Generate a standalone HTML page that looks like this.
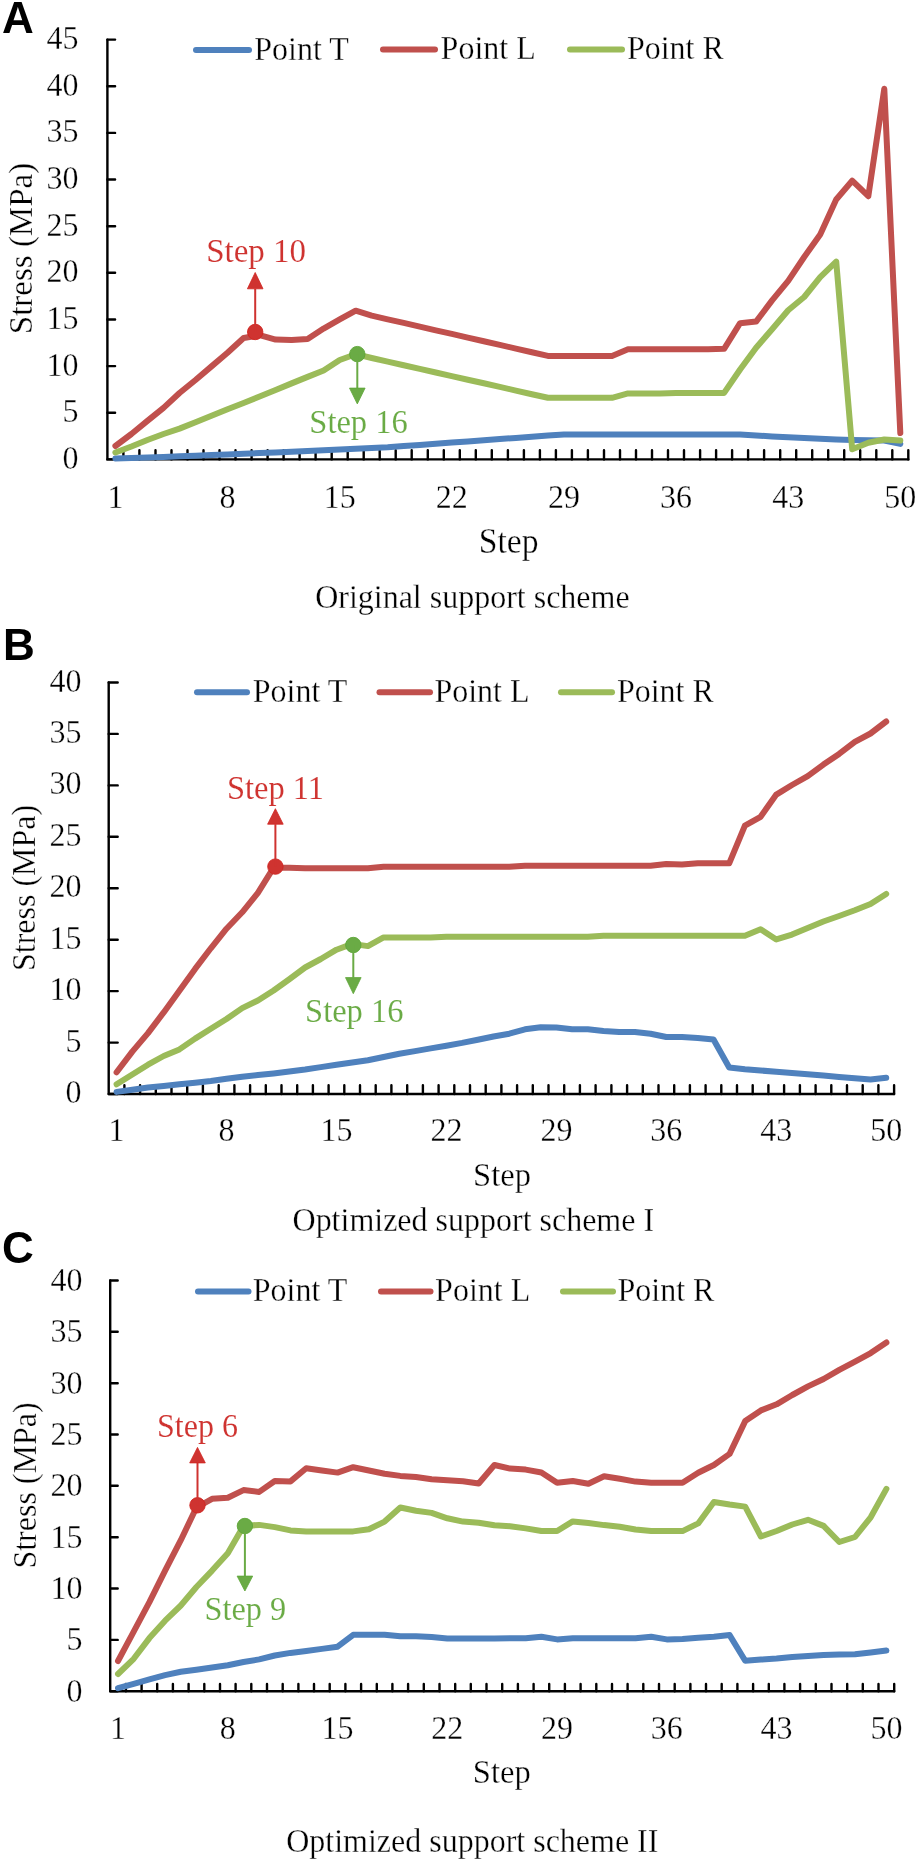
<!DOCTYPE html>
<html><head><meta charset="utf-8"><style>
html,body{margin:0;padding:0;background:#fff;width:919px;height:1862px;overflow:hidden}
svg{display:block;will-change:transform}
text{font-family:"Liberation Serif",serif;stroke:#fff;stroke-width:0.3px}
.lt{font-family:"Liberation Sans",sans-serif;font-weight:bold;stroke:none}
.an{stroke-width:0.1px}
</style></head><body>
<svg width="919" height="1862" viewBox="0 0 919 1862">
<rect width="919" height="1862" fill="#fff"/>
<path d="M107.4 39.6 V459.4 H908.3" fill="none" stroke="#000" stroke-width="2.4" stroke-linecap="round" stroke-linejoin="round"/>
<path d="M107.4 459.4 H115.1 M107.4 412.8 H115.1 M107.4 366.1 H115.1 M107.4 319.5 H115.1 M107.4 272.8 H115.1 M107.4 226.2 H115.1 M107.4 179.5 H115.1 M107.4 132.9 H115.1 M107.4 86.2 H115.1 M107.4 39.6 H115.1 M123.4 459.4 V450.3 M139.4 459.4 V450.3 M155.5 459.4 V450.3 M171.5 459.4 V450.3 M187.5 459.4 V450.3 M203.5 459.4 V450.3 M219.5 459.4 V450.3 M235.5 459.4 V450.3 M251.6 459.4 V450.3 M267.6 459.4 V450.3 M283.6 459.4 V450.3 M299.6 459.4 V450.3 M315.6 459.4 V450.3 M331.7 459.4 V450.3 M347.7 459.4 V450.3 M363.7 459.4 V450.3 M379.7 459.4 V450.3 M395.7 459.4 V450.3 M411.7 459.4 V450.3 M427.8 459.4 V450.3 M443.8 459.4 V450.3 M459.8 459.4 V450.3 M475.8 459.4 V450.3 M491.8 459.4 V450.3 M507.9 459.4 V450.3 M523.9 459.4 V450.3 M539.9 459.4 V450.3 M555.9 459.4 V450.3 M571.9 459.4 V450.3 M587.9 459.4 V450.3 M604 459.4 V450.3 M620 459.4 V450.3 M636 459.4 V450.3 M652 459.4 V450.3 M668 459.4 V450.3 M684 459.4 V450.3 M700.1 459.4 V450.3 M716.1 459.4 V450.3 M732.1 459.4 V450.3 M748.1 459.4 V450.3 M764.1 459.4 V450.3 M780.2 459.4 V450.3 M796.2 459.4 V450.3 M812.2 459.4 V450.3 M828.2 459.4 V450.3 M844.2 459.4 V450.3 M860.2 459.4 V450.3 M876.3 459.4 V450.3 M892.3 459.4 V450.3 M908.3 459.4 V450.3" fill="none" stroke="#000" stroke-width="2.4" stroke-linecap="round"/>
<text transform="translate(78.5,468.8) scale(1,1.05)" text-anchor="end" fill="#000" font-size="32">0</text>
<text transform="translate(78.5,422.2) scale(1,1.05)" text-anchor="end" fill="#000" font-size="32">5</text>
<text transform="translate(78.5,375.5) scale(1,1.05)" text-anchor="end" fill="#000" font-size="32">10</text>
<text transform="translate(78.5,328.9) scale(1,1.05)" text-anchor="end" fill="#000" font-size="32">15</text>
<text transform="translate(78.5,282.2) scale(1,1.05)" text-anchor="end" fill="#000" font-size="32">20</text>
<text transform="translate(78.5,235.6) scale(1,1.05)" text-anchor="end" fill="#000" font-size="32">25</text>
<text transform="translate(78.5,188.9) scale(1,1.05)" text-anchor="end" fill="#000" font-size="32">30</text>
<text transform="translate(78.5,142.3) scale(1,1.05)" text-anchor="end" fill="#000" font-size="32">35</text>
<text transform="translate(78.5,95.6) scale(1,1.05)" text-anchor="end" fill="#000" font-size="32">40</text>
<text transform="translate(78.5,49) scale(1,1.05)" text-anchor="end" fill="#000" font-size="32">45</text>
<text transform="translate(115.4,508) scale(1,1.05)" text-anchor="middle" fill="#000" font-size="32">1</text>
<text transform="translate(227.5,508) scale(1,1.05)" text-anchor="middle" fill="#000" font-size="32">8</text>
<text transform="translate(339.7,508) scale(1,1.05)" text-anchor="middle" fill="#000" font-size="32">15</text>
<text transform="translate(451.8,508) scale(1,1.05)" text-anchor="middle" fill="#000" font-size="32">22</text>
<text transform="translate(563.9,508) scale(1,1.05)" text-anchor="middle" fill="#000" font-size="32">29</text>
<text transform="translate(676,508) scale(1,1.05)" text-anchor="middle" fill="#000" font-size="32">36</text>
<text transform="translate(788.2,508) scale(1,1.05)" text-anchor="middle" fill="#000" font-size="32">43</text>
<text transform="translate(900.3,508) scale(1,1.05)" text-anchor="middle" fill="#000" font-size="32">50</text>
<polyline points="115.4,458.5 131.4,458 147.4,457.4 163.5,456.9 179.5,456.3 195.5,455.8 211.5,455.1 227.5,454.4 243.6,453.7 259.6,453.1 275.6,452.4 291.6,451.7 307.6,451 323.6,450.3 339.7,449.5 355.7,448.8 371.7,448 387.7,447.3 403.7,446.1 419.8,445 435.8,443.8 451.8,442.6 467.8,441.5 483.8,440.3 499.8,439.1 515.9,437.9 531.9,436.8 547.9,435.6 563.9,434.6 579.9,434.6 595.9,434.6 612,434.6 628,434.6 644,434.6 660,434.6 676,434.6 692.1,434.6 708.1,434.6 724.1,434.6 740.1,434.6 756.1,435.5 772.1,436.4 788.2,437.3 804.2,438 820.2,438.8 836.2,439.5 852.2,439.9 868.3,440.2 884.3,440.6 900.3,443.9" fill="none" stroke="#4F81BD" stroke-width="6.0" stroke-linejoin="round" stroke-linecap="round"/>
<polyline points="115.4,446 131.4,434 147.4,420.9 163.5,407.9 179.5,393 195.5,380 211.5,366.4 227.5,352.8 243.6,338 259.6,335.2 275.6,339.6 291.6,340 307.6,339 323.6,328.6 339.7,319.4 355.7,310.7 371.7,315.6 387.7,319.3 403.7,322.9 419.8,326.6 435.8,330.3 451.8,333.9 467.8,337.6 483.8,341.2 499.8,344.9 515.9,348.6 531.9,352.2 547.9,355.9 563.9,355.9 579.9,355.9 595.9,355.9 612,355.9 628,349.3 644,349.3 660,349.3 676,349.3 692.1,349.3 708.1,349.3 724.1,348.8 740.1,323.2 756.1,321.6 772.1,300.4 788.2,280.8 804.2,257 820.2,234.4 836.2,199.5 852.2,180.7 868.3,196.2 884.3,88.8 900.3,433" fill="none" stroke="#C0504D" stroke-width="6.0" stroke-linejoin="round" stroke-linecap="round"/>
<polyline points="115.4,452.5 131.4,446.5 147.4,440 163.5,434 179.5,428.6 195.5,422.2 211.5,415.8 227.5,409.2 243.6,403 259.6,396.5 275.6,389.9 291.6,383.4 307.6,376.9 323.6,370.5 339.7,360 355.7,354.2 371.7,358 387.7,361.6 403.7,365.2 419.8,368.9 435.8,372.5 451.8,376.1 467.8,379.7 483.8,383.3 499.8,386.9 515.9,390.6 531.9,394.2 547.9,397.8 563.9,397.8 579.9,397.8 595.9,397.8 612,397.8 628,393.4 644,393.4 660,393.4 676,392.9 692.1,392.9 708.1,392.9 724.1,392.9 740.1,369.5 756.1,347.7 772.1,329.2 788.2,310.2 804.2,297 820.2,277.2 836.2,261.6 852.2,449.3 868.3,442.8 884.3,439.5 900.3,440.6" fill="none" stroke="#9BBB59" stroke-width="6.0" stroke-linejoin="round" stroke-linecap="round"/>
<path d="M196 50 H249" stroke="#4F81BD" stroke-width="6.0" stroke-linecap="round"/>
<text transform="translate(254.3,59.8) scale(1,1.05)" text-anchor="start" fill="#000" font-size="32">Point T</text>
<path d="M383 49.6 H435" stroke="#C0504D" stroke-width="6.0" stroke-linecap="round"/>
<text transform="translate(440.6,59.4) scale(1,1.05)" text-anchor="start" fill="#000" font-size="32">Point L</text>
<path d="M570 49.6 H622" stroke="#9BBB59" stroke-width="6.0" stroke-linecap="round"/>
<text transform="translate(626.9,59.4) scale(1,1.05)" text-anchor="start" fill="#000" font-size="32">Point R</text>
<text transform="translate(32.2,248.5) rotate(-90) scale(1,1.05)" text-anchor="middle" font-size="33">Stress (MPa)</text>
<text transform="translate(508.7,553) scale(1,1.05)" text-anchor="middle" fill="#000" font-size="33.6">Step</text>
<text transform="translate(472.4,608.3) scale(1,1.05)" text-anchor="middle" fill="#000" font-size="32">Original support scheme</text>
<text x="2" y="32.7" class="lt" font-size="44">A</text>
<circle cx="255.2" cy="332" r="7.7" fill="#CF3330" stroke="#D0241F" stroke-width="0.9"/>
<path d="M255.2 332 V288.8" stroke="#CF3330" stroke-width="2"/>
<path d="M247.4 288.8 L263 288.8 L255.2 272.5 Z" fill="#CF3330" stroke="#D0241F" stroke-width="0.8" stroke-linejoin="round"/>
<text transform="translate(256.1,262.4) scale(1,1.05)" text-anchor="middle" fill="#CF3330" font-size="33" class="an">Step 10</text>
<circle cx="357.3" cy="354.1" r="7.7" fill="#6AAB45" stroke="#5EA638" stroke-width="0.9"/>
<path d="M357.3 354.1 V388.1" stroke="#6AAB45" stroke-width="2"/>
<path d="M349.5 388.1 L365.1 388.1 L357.3 403.9 Z" fill="#6AAB45" stroke="#5EA638" stroke-width="0.8" stroke-linejoin="round"/>
<text transform="translate(358.5,432.5) scale(1,1.05)" text-anchor="middle" fill="#6AAB45" font-size="32.5" class="an">Step 16</text>
<path d="M108.7 682.5 V1094 H894.1" fill="none" stroke="#000" stroke-width="2.4" stroke-linecap="round" stroke-linejoin="round"/>
<path d="M108.7 1094 H117.7 M108.7 1042.6 H117.7 M108.7 991.1 H117.7 M108.7 939.7 H117.7 M108.7 888.2 H117.7 M108.7 836.8 H117.7 M108.7 785.4 H117.7 M108.7 733.9 H117.7 M108.7 682.5 H117.7 M124.4 1094 V1085.3 M140.1 1094 V1085.3 M155.8 1094 V1085.3 M171.5 1094 V1085.3 M187.2 1094 V1085.3 M202.9 1094 V1085.3 M218.7 1094 V1085.3 M234.4 1094 V1085.3 M250.1 1094 V1085.3 M265.8 1094 V1085.3 M281.5 1094 V1085.3 M297.2 1094 V1085.3 M312.9 1094 V1085.3 M328.6 1094 V1085.3 M344.3 1094 V1085.3 M360 1094 V1085.3 M375.7 1094 V1085.3 M391.4 1094 V1085.3 M407.2 1094 V1085.3 M422.9 1094 V1085.3 M438.6 1094 V1085.3 M454.3 1094 V1085.3 M470 1094 V1085.3 M485.7 1094 V1085.3 M501.4 1094 V1085.3 M517.1 1094 V1085.3 M532.8 1094 V1085.3 M548.5 1094 V1085.3 M564.2 1094 V1085.3 M579.9 1094 V1085.3 M595.6 1094 V1085.3 M611.4 1094 V1085.3 M627.1 1094 V1085.3 M642.8 1094 V1085.3 M658.5 1094 V1085.3 M674.2 1094 V1085.3 M689.9 1094 V1085.3 M705.6 1094 V1085.3 M721.3 1094 V1085.3 M737 1094 V1085.3 M752.7 1094 V1085.3 M768.4 1094 V1085.3 M784.1 1094 V1085.3 M799.9 1094 V1085.3 M815.6 1094 V1085.3 M831.3 1094 V1085.3 M847 1094 V1085.3 M862.7 1094 V1085.3 M878.4 1094 V1085.3 M894.1 1094 V1085.3" fill="none" stroke="#000" stroke-width="2.4" stroke-linecap="round"/>
<text transform="translate(81.5,1103) scale(1,1.05)" text-anchor="end" fill="#000" font-size="32">0</text>
<text transform="translate(81.5,1051.6) scale(1,1.05)" text-anchor="end" fill="#000" font-size="32">5</text>
<text transform="translate(81.5,1000.1) scale(1,1.05)" text-anchor="end" fill="#000" font-size="32">10</text>
<text transform="translate(81.5,948.7) scale(1,1.05)" text-anchor="end" fill="#000" font-size="32">15</text>
<text transform="translate(81.5,897.2) scale(1,1.05)" text-anchor="end" fill="#000" font-size="32">20</text>
<text transform="translate(81.5,845.8) scale(1,1.05)" text-anchor="end" fill="#000" font-size="32">25</text>
<text transform="translate(81.5,794.4) scale(1,1.05)" text-anchor="end" fill="#000" font-size="32">30</text>
<text transform="translate(81.5,742.9) scale(1,1.05)" text-anchor="end" fill="#000" font-size="32">35</text>
<text transform="translate(81.5,691.5) scale(1,1.05)" text-anchor="end" fill="#000" font-size="32">40</text>
<text transform="translate(116.6,1141) scale(1,1.05)" text-anchor="middle" fill="#000" font-size="32">1</text>
<text transform="translate(226.5,1141) scale(1,1.05)" text-anchor="middle" fill="#000" font-size="32">8</text>
<text transform="translate(336.5,1141) scale(1,1.05)" text-anchor="middle" fill="#000" font-size="32">15</text>
<text transform="translate(446.4,1141) scale(1,1.05)" text-anchor="middle" fill="#000" font-size="32">22</text>
<text transform="translate(556.4,1141) scale(1,1.05)" text-anchor="middle" fill="#000" font-size="32">29</text>
<text transform="translate(666.3,1141) scale(1,1.05)" text-anchor="middle" fill="#000" font-size="32">36</text>
<text transform="translate(776.3,1141) scale(1,1.05)" text-anchor="middle" fill="#000" font-size="32">43</text>
<text transform="translate(886.2,1141) scale(1,1.05)" text-anchor="middle" fill="#000" font-size="32">50</text>
<polyline points="116.6,1091.9 132.3,1089.7 148,1087.5 163.7,1085.9 179.4,1084.3 195.1,1082.7 210.8,1081 226.5,1078.8 242.2,1076.7 257.9,1075.1 273.6,1073.4 289.3,1071.5 305.1,1069.5 320.8,1067.1 336.5,1064.7 352.2,1062.5 367.9,1060.3 383.6,1057 399.3,1053.8 415,1051.1 430.7,1048.4 446.4,1045.7 462.1,1042.9 477.8,1039.7 493.5,1036.5 509.3,1033.7 525,1029.3 540.7,1027.2 556.4,1027.6 572.1,1029.3 587.8,1029.3 603.5,1030.9 619.2,1032 634.9,1032 650.6,1033.7 666.3,1037 682,1037.1 697.8,1038 713.5,1039.5 729.2,1067.5 744.9,1069.2 760.6,1070.5 776.3,1071.8 792,1073.1 807.7,1074.3 823.4,1075.6 839.1,1076.9 854.8,1078.2 870.5,1079.5 886.2,1077.8" fill="none" stroke="#4F81BD" stroke-width="6.0" stroke-linejoin="round" stroke-linecap="round"/>
<polyline points="116.6,1072.3 132.3,1051.6 148,1033.1 163.7,1012.4 179.4,990.7 195.1,968.9 210.8,948.3 226.5,928.7 242.2,912.3 257.9,892.8 273.6,867.7 289.3,867.7 305.1,868.2 320.8,868.2 336.5,868.2 352.2,868.2 367.9,868.2 383.6,866.8 399.3,866.8 415,866.8 430.7,866.8 446.4,866.8 462.1,866.8 477.8,866.8 493.5,866.8 509.3,866.8 525,865.7 540.7,865.7 556.4,865.7 572.1,865.7 587.8,865.7 603.5,865.7 619.2,865.7 634.9,865.7 650.6,865.7 666.3,864 682,864.5 697.8,863.3 713.5,863.3 729.2,863.3 744.9,825.7 760.6,816.8 776.3,794.6 792,785 807.7,776.1 823.4,764.6 839.1,753.9 854.8,741.9 870.5,733.5 886.2,721.5" fill="none" stroke="#C0504D" stroke-width="6.0" stroke-linejoin="round" stroke-linecap="round"/>
<polyline points="116.6,1084.3 132.3,1074.5 148,1064.7 163.7,1056 179.4,1049.4 195.1,1038.6 210.8,1028.8 226.5,1019 242.2,1008.1 257.9,1000.5 273.6,990.5 289.3,979.2 305.1,967.5 320.8,959 336.5,949.7 352.2,943.9 367.9,946.1 383.6,937.4 399.3,937.4 415,937.4 430.7,937.4 446.4,936.8 462.1,936.8 477.8,936.8 493.5,936.8 509.3,936.8 525,936.8 540.7,936.8 556.4,936.8 572.1,936.8 587.8,936.8 603.5,935.8 619.2,935.8 634.9,935.8 650.6,935.8 666.3,935.8 682,935.8 697.8,935.8 713.5,935.8 729.2,935.8 744.9,935.8 760.6,929.3 776.3,939.4 792,934.6 807.7,927.9 823.4,921.5 839.1,916 854.8,910.2 870.5,904 886.2,893.9" fill="none" stroke="#9BBB59" stroke-width="6.0" stroke-linejoin="round" stroke-linecap="round"/>
<path d="M197 692.2 H247" stroke="#4F81BD" stroke-width="6.0" stroke-linecap="round"/>
<text transform="translate(252.8,702) scale(1,1.05)" text-anchor="start" fill="#000" font-size="32">Point T</text>
<path d="M379.5 692.2 H430" stroke="#C0504D" stroke-width="6.0" stroke-linecap="round"/>
<text transform="translate(434.4,702) scale(1,1.05)" text-anchor="start" fill="#000" font-size="32">Point L</text>
<path d="M561 692.2 H612" stroke="#9BBB59" stroke-width="6.0" stroke-linecap="round"/>
<text transform="translate(616.9,702) scale(1,1.05)" text-anchor="start" fill="#000" font-size="32">Point R</text>
<text transform="translate(34.9,887.9) rotate(-90) scale(1,1.05)" text-anchor="middle" font-size="32">Stress (MPa)</text>
<text transform="translate(502,1185.9) scale(1,1.05)" text-anchor="middle" fill="#000" font-size="32.6">Step</text>
<text transform="translate(473.3,1230.8) scale(1,1.05)" text-anchor="middle" fill="#000" font-size="32">Optimized support scheme I</text>
<text x="3" y="660.4" class="lt" font-size="44">B</text>
<circle cx="275.4" cy="866.6" r="7.7" fill="#CF3330" stroke="#D0241F" stroke-width="0.9"/>
<path d="M275.4 866.6 V824.2" stroke="#CF3330" stroke-width="2"/>
<path d="M267.6 824.2 L283.2 824.2 L275.4 808.7 Z" fill="#CF3330" stroke="#D0241F" stroke-width="0.8" stroke-linejoin="round"/>
<text transform="translate(275.5,799.2) scale(1,1.05)" text-anchor="middle" fill="#CF3330" font-size="32.5" class="an">Step 11</text>
<circle cx="353.3" cy="945" r="7.7" fill="#6AAB45" stroke="#5EA638" stroke-width="0.9"/>
<path d="M353.3 945 V977.6" stroke="#6AAB45" stroke-width="2"/>
<path d="M345.5 977.6 L361.1 977.6 L353.3 993.7 Z" fill="#6AAB45" stroke="#5EA638" stroke-width="0.8" stroke-linejoin="round"/>
<text transform="translate(354.3,1022.2) scale(1,1.05)" text-anchor="middle" fill="#6AAB45" font-size="32.5" class="an">Step 16</text>
<path d="M110.2 1280.5 V1691.2 H894.2" fill="none" stroke="#000" stroke-width="2.4" stroke-linecap="round" stroke-linejoin="round"/>
<path d="M110.2 1691.2 H117.7 M110.2 1639.9 H117.7 M110.2 1588.5 H117.7 M110.2 1537.2 H117.7 M110.2 1485.8 H117.7 M110.2 1434.5 H117.7 M110.2 1383.2 H117.7 M110.2 1331.8 H117.7 M110.2 1280.5 H117.7 M125.9 1691.2 V1683.9 M141.6 1691.2 V1683.9 M157.2 1691.2 V1683.9 M172.9 1691.2 V1683.9 M188.6 1691.2 V1683.9 M204.3 1691.2 V1683.9 M220 1691.2 V1683.9 M235.6 1691.2 V1683.9 M251.3 1691.2 V1683.9 M267 1691.2 V1683.9 M282.7 1691.2 V1683.9 M298.4 1691.2 V1683.9 M314 1691.2 V1683.9 M329.7 1691.2 V1683.9 M345.4 1691.2 V1683.9 M361.1 1691.2 V1683.9 M376.8 1691.2 V1683.9 M392.4 1691.2 V1683.9 M408.1 1691.2 V1683.9 M423.8 1691.2 V1683.9 M439.5 1691.2 V1683.9 M455.2 1691.2 V1683.9 M470.8 1691.2 V1683.9 M486.5 1691.2 V1683.9 M502.2 1691.2 V1683.9 M517.9 1691.2 V1683.9 M533.6 1691.2 V1683.9 M549.2 1691.2 V1683.9 M564.9 1691.2 V1683.9 M580.6 1691.2 V1683.9 M596.3 1691.2 V1683.9 M612 1691.2 V1683.9 M627.6 1691.2 V1683.9 M643.3 1691.2 V1683.9 M659 1691.2 V1683.9 M674.7 1691.2 V1683.9 M690.4 1691.2 V1683.9 M706 1691.2 V1683.9 M721.7 1691.2 V1683.9 M737.4 1691.2 V1683.9 M753.1 1691.2 V1683.9 M768.8 1691.2 V1683.9 M784.4 1691.2 V1683.9 M800.1 1691.2 V1683.9 M815.8 1691.2 V1683.9 M831.5 1691.2 V1683.9 M847.2 1691.2 V1683.9 M862.8 1691.2 V1683.9 M878.5 1691.2 V1683.9 M894.2 1691.2 V1683.9" fill="none" stroke="#000" stroke-width="2.4" stroke-linecap="round"/>
<text transform="translate(82.5,1701.6) scale(1,1.05)" text-anchor="end" fill="#000" font-size="32">0</text>
<text transform="translate(82.5,1650.3) scale(1,1.05)" text-anchor="end" fill="#000" font-size="32">5</text>
<text transform="translate(82.5,1598.9) scale(1,1.05)" text-anchor="end" fill="#000" font-size="32">10</text>
<text transform="translate(82.5,1547.6) scale(1,1.05)" text-anchor="end" fill="#000" font-size="32">15</text>
<text transform="translate(82.5,1496.2) scale(1,1.05)" text-anchor="end" fill="#000" font-size="32">20</text>
<text transform="translate(82.5,1444.9) scale(1,1.05)" text-anchor="end" fill="#000" font-size="32">25</text>
<text transform="translate(82.5,1393.6) scale(1,1.05)" text-anchor="end" fill="#000" font-size="32">30</text>
<text transform="translate(82.5,1342.2) scale(1,1.05)" text-anchor="end" fill="#000" font-size="32">35</text>
<text transform="translate(82.5,1290.9) scale(1,1.05)" text-anchor="end" fill="#000" font-size="32">40</text>
<text transform="translate(118,1738.5) scale(1,1.05)" text-anchor="middle" fill="#000" font-size="32">1</text>
<text transform="translate(227.8,1738.5) scale(1,1.05)" text-anchor="middle" fill="#000" font-size="32">8</text>
<text transform="translate(337.6,1738.5) scale(1,1.05)" text-anchor="middle" fill="#000" font-size="32">15</text>
<text transform="translate(447.3,1738.5) scale(1,1.05)" text-anchor="middle" fill="#000" font-size="32">22</text>
<text transform="translate(557.1,1738.5) scale(1,1.05)" text-anchor="middle" fill="#000" font-size="32">29</text>
<text transform="translate(666.8,1738.5) scale(1,1.05)" text-anchor="middle" fill="#000" font-size="32">36</text>
<text transform="translate(776.6,1738.5) scale(1,1.05)" text-anchor="middle" fill="#000" font-size="32">43</text>
<text transform="translate(886.4,1738.5) scale(1,1.05)" text-anchor="middle" fill="#000" font-size="32">50</text>
<polyline points="118,1688.2 133.7,1683.8 149.4,1679.4 165.1,1675.1 180.8,1671.8 196.4,1669.7 212.1,1667.5 227.8,1665.3 243.5,1662 259.2,1659.4 274.8,1655.5 290.5,1652.9 306.2,1651 321.9,1648.9 337.6,1646.7 353.2,1634.8 368.9,1634.8 384.6,1634.8 400.3,1636.3 416,1636.3 431.6,1637 447.3,1638.5 463,1638.5 478.7,1638.5 494.4,1638.4 510,1638.3 525.7,1638.3 541.4,1636.8 557.1,1639.4 572.8,1638.3 588.4,1638.3 604.1,1638.3 619.8,1638.3 635.5,1638.3 651.2,1636.8 666.8,1639.4 682.5,1639 698.2,1637.7 713.9,1636.8 729.6,1635.1 745.2,1660.7 760.9,1659.6 776.6,1658.6 792.3,1656.9 808,1656 823.6,1655 839.3,1654.6 855,1654.3 870.7,1652.5 886.4,1650.6" fill="none" stroke="#4F81BD" stroke-width="6.0" stroke-linejoin="round" stroke-linecap="round"/>
<polyline points="118,1661 133.7,1631.6 149.4,1602.2 165.1,1570.6 180.8,1540.2 196.4,1507.5 212.1,1498.8 227.8,1497.7 243.5,1490.1 259.2,1491.9 274.8,1481 290.5,1481.4 306.2,1468.3 321.9,1470.5 337.6,1472.6 353.2,1467.2 368.9,1470.5 384.6,1473.7 400.3,1475.9 416,1477 431.6,1479.2 447.3,1480.3 463,1481.3 478.7,1483.5 494.4,1465 510,1468.6 525.7,1469.6 541.4,1472.5 557.1,1482.7 572.8,1481 588.4,1483.8 604.1,1476.2 619.8,1478.8 635.5,1481.6 651.2,1482.7 666.8,1482.7 682.5,1482.7 698.2,1472.8 713.9,1465 729.6,1453.9 745.2,1421.1 760.9,1410.4 776.6,1404.3 792.3,1395 808,1386.4 823.6,1379 839.3,1369.9 855,1361.7 870.7,1353.1 886.4,1342.5" fill="none" stroke="#C0504D" stroke-width="6.0" stroke-linejoin="round" stroke-linecap="round"/>
<polyline points="118,1674 133.7,1658.8 149.4,1638.1 165.1,1620.7 180.8,1605.5 196.4,1587 212.1,1570.6 227.8,1553.2 243.5,1526 259.2,1524.9 274.8,1527.1 290.5,1530.4 306.2,1531.4 321.9,1531.4 337.6,1531.4 353.2,1531.4 368.9,1529.2 384.6,1521.6 400.3,1507.5 416,1510.7 431.6,1512.9 447.3,1518.3 463,1521.6 478.7,1522.7 494.4,1525.3 510,1526.2 525.7,1528.4 541.4,1531 557.1,1531 572.8,1521.4 588.4,1523 604.1,1525.1 619.8,1526.7 635.5,1529.5 651.2,1531 666.8,1531.1 682.5,1531.1 698.2,1523.4 713.9,1502 729.6,1504.5 745.2,1506.6 760.9,1536.5 776.6,1531 792.3,1524.5 808,1519.8 823.6,1525.9 839.3,1542 855,1537 870.7,1517.3 886.4,1488.9" fill="none" stroke="#9BBB59" stroke-width="6.0" stroke-linejoin="round" stroke-linecap="round"/>
<path d="M198 1291.5 H248.5" stroke="#4F81BD" stroke-width="6.0" stroke-linecap="round"/>
<text transform="translate(252.8,1301.3) scale(1,1.05)" text-anchor="start" fill="#000" font-size="32">Point T</text>
<path d="M381 1291.5 H430.5" stroke="#C0504D" stroke-width="6.0" stroke-linecap="round"/>
<text transform="translate(435.1,1301.3) scale(1,1.05)" text-anchor="start" fill="#000" font-size="32">Point L</text>
<path d="M563 1291.5 H613" stroke="#9BBB59" stroke-width="6.0" stroke-linecap="round"/>
<text transform="translate(617.5,1301.3) scale(1,1.05)" text-anchor="start" fill="#000" font-size="32">Point R</text>
<text transform="translate(35.9,1485.5) rotate(-90) scale(1,1.05)" text-anchor="middle" font-size="32">Stress (MPa)</text>
<text transform="translate(501.8,1783.1) scale(1,1.05)" text-anchor="middle" fill="#000" font-size="32.6">Step</text>
<text transform="translate(472.3,1852.2) scale(1,1.05)" text-anchor="middle" fill="#000" font-size="32">Optimized support scheme II</text>
<text x="2" y="1263.4" class="lt" font-size="44">C</text>
<circle cx="197.5" cy="1505.3" r="7.7" fill="#CF3330" stroke="#D0241F" stroke-width="0.9"/>
<path d="M197.5 1505.3 V1462.9" stroke="#CF3330" stroke-width="2"/>
<path d="M189.7 1462.9 L205.3 1462.9 L197.5 1447.4 Z" fill="#CF3330" stroke="#D0241F" stroke-width="0.8" stroke-linejoin="round"/>
<text transform="translate(197.5,1436.8) scale(1,1.05)" text-anchor="middle" fill="#CF3330" font-size="32" class="an">Step 6</text>
<circle cx="244.9" cy="1526" r="7.7" fill="#6AAB45" stroke="#5EA638" stroke-width="0.9"/>
<path d="M244.9 1526 V1576.1" stroke="#6AAB45" stroke-width="2"/>
<path d="M237.1 1576.1 L252.7 1576.1 L244.9 1591 Z" fill="#6AAB45" stroke="#5EA638" stroke-width="0.8" stroke-linejoin="round"/>
<text transform="translate(245.3,1619.6) scale(1,1.05)" text-anchor="middle" fill="#6AAB45" font-size="32.3" class="an">Step 9</text>
</svg>
</body></html>
